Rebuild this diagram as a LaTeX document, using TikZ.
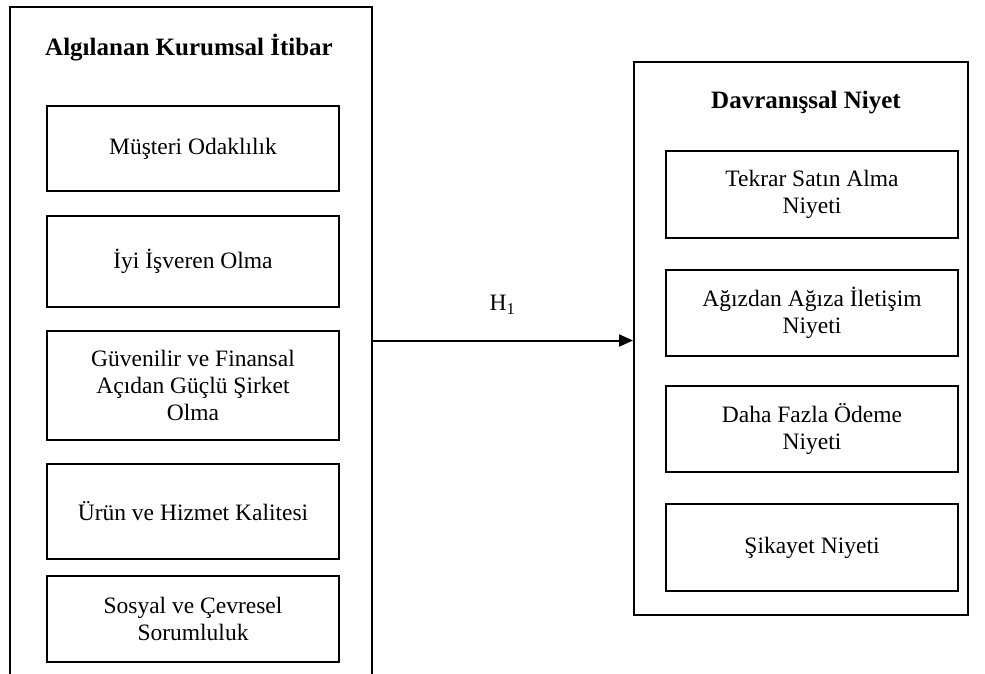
\documentclass[tikz,border=0pt]{standalone}
\usepackage{fontspec}
\setmainfont{Liberation Serif}
\usetikzlibrary{positioning}
\usetikzlibrary{arrows.meta}

\begin{document}
\begin{tikzpicture}[x=1pt,y=-1pt,line width=2pt,node distance=22pt,
  kutu/.style={draw,minimum width=292pt,inner sep=0pt,align=center,font=\fontsize{23.5}{27}\selectfont},
  baslik/.style={font=\bfseries\fontsize{25}{30}\selectfont}]
  \useasboundingbox (0,0) rectangle (985,673);

  \node[minimum width=360pt,minimum height=665pt,inner sep=0pt]	(itibar)	at (191,340.5)	{};
  \node[baslik]				(tI)	at (189,48)		{Algılanan Kurumsal İtibar};
  \node[kutu,minimum height=85pt]	(m1)	at (193,148.5)	{Müşteri Odaklılık};
  \node[kutu,minimum height=91pt]	(m2) [below=23pt of m1]	{İyi İşveren Olma};
  \node[kutu,minimum height=109pt]	(m3) [below=of m2]	{Güvenilir ve Finansal\\Açıdan Güçlü Şirket\\Olma};
  \node[kutu,minimum height=95pt]	(m4) [below=of m3]	{Ürün ve Hizmet Kalitesi};
  \node[kutu,minimum height=86pt]	(m5) [below=15pt of m4]	{Sosyal ve Çevresel\\Sorumluluk};

  \node[draw,minimum width=334pt,minimum height=553pt,inner sep=0pt]	(niyet)	at (801,338.5)	{};
  \node[baslik]				(tN)	at (806,103)		{Davranışsal Niyet};
  \node[kutu,minimum height=87pt]	(d1)	at (812,194.5)	{Tekrar Satın Alma\\Niyeti};
  \node[kutu,minimum height=86pt]	(d2) [below=30pt of d1]	{Ağızdan Ağıza İletişim\\Niyeti};
  \node[kutu,minimum height=86pt]	(d3) [below=28pt of d2]	{Daha Fazla Ödeme\\Niyeti};
  \node[kutu,minimum height=87pt]	(d4) [below=30pt of d3]	{Şikayet Niyeti};

  % open at the bottom
  \draw (itibar.south west) -- (itibar.north west) -- (itibar.north east) -- (itibar.south east);

  \draw[-{Triangle[length=14pt,width=12pt]}] (itibar.east) -- (itibar.east -| niyet.west)
	node[midway,yshift=36pt,font=\fontsize{23.5}{27}\selectfont] {H\textsubscript{1}};
\end{tikzpicture}
\end{document}
